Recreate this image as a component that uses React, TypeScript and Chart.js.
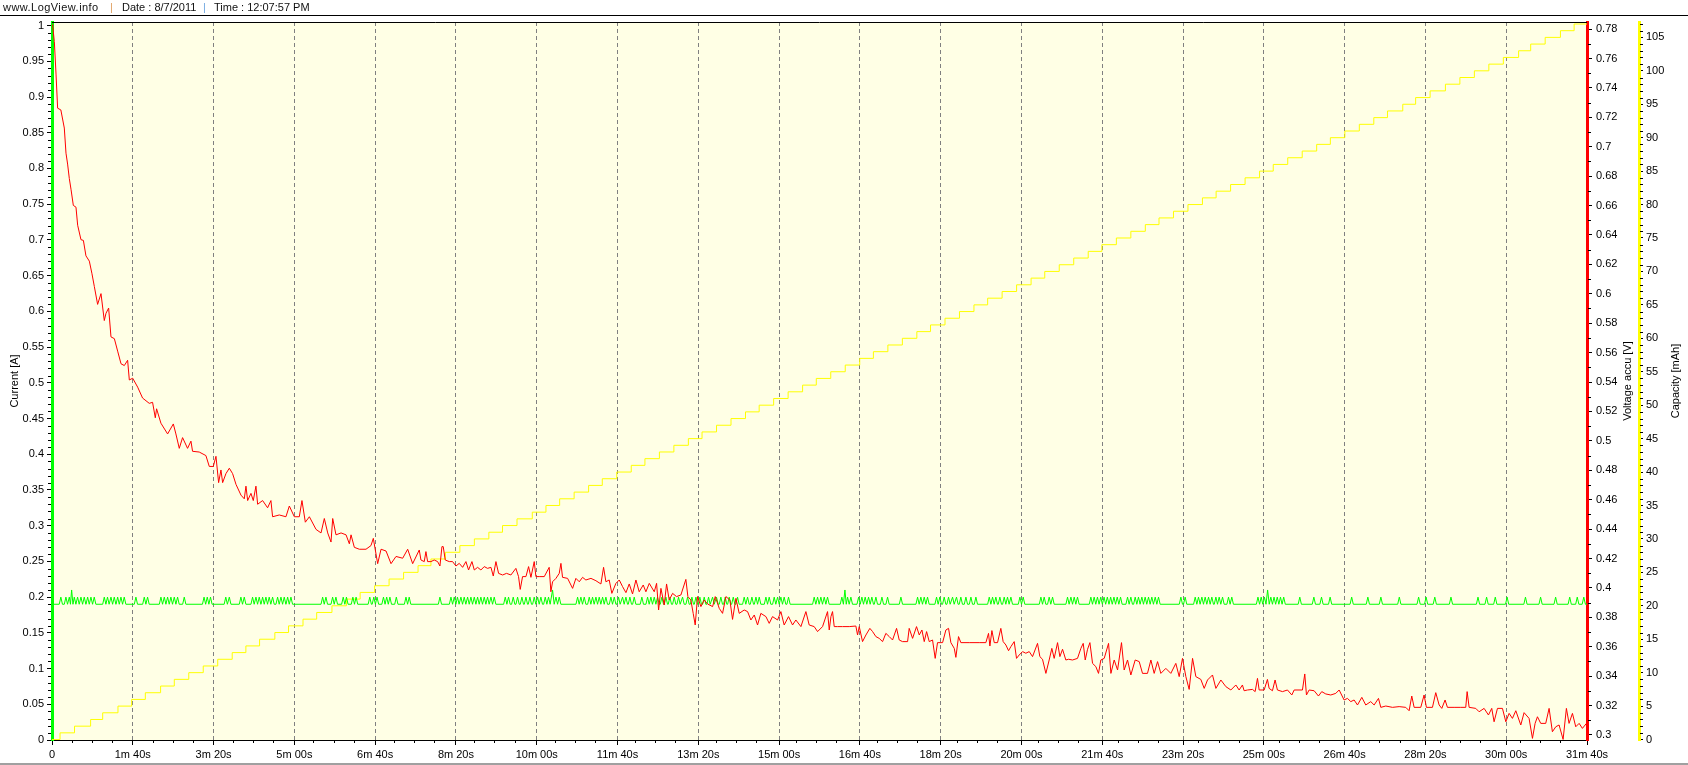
import React, { useEffect, useRef } from 'react';
import { Chart, registerables } from 'chart.js';

Chart.register(...registerables);

const FONT = "'Liberation Sans', Arial, sans-serif";

// ---- axis ranges ----
const X_MAX = 1908; // seconds
const CURRENT_RANGE = [0, 1.005];
const VOLT_RANGE = [0.2966, 0.7848];
const CAP_RANGE = [-0.07, 107.3];

// ---- tick labels ----
const xTickLabels = [
  '0', '1m 40s', '3m 20s', '5m 00s', '6m 40s', '8m 20s', '10m 00s', '11m 40s', '13m 20s', '15m 00s',
  '16m 40s', '18m 20s', '20m 00s', '21m 40s', '23m 20s', '25m 00s', '26m 40s', '28m 20s', '30m 00s', '31m 40s',
];

// ---- Voltage accu [V] (red) ----
const voltTime = [
  0, 0.8, 2.9, 5, 7, 11, 15.3, 17.4, 19.4, 21.5, 23.6, 26.5, 29.8, 31.9, 36, 39, 42.2, 46.4, 49.7, 52.6,
  56.7, 60.9, 65, 67.1, 70.4, 73.3, 77.5, 81.6, 85.8, 89.9, 94, 96.1, 100.3, 106.5, 112.6, 120.9, 125, 128.4, 130, 135.4,
  143.7, 150.8, 154, 158.2, 162.3, 168.5, 172.7, 174.7, 183, 191.3, 195.5, 200.5, 203.8, 207.1, 210, 212.1, 216.2, 220.4, 224.5, 228.7,
  234.9, 239, 241.1, 243.2, 247.3, 250.2, 253.5, 255.6, 261.8, 268, 272.1, 274.2, 282.5, 290.8, 295, 301.2, 307.4, 310.7, 314.9, 319.9,
  328.2, 334.4, 338.5, 342.7, 346.8, 348.9, 353, 359.3, 365.5, 369.6, 371.7, 375.8, 382, 390.3, 396.5, 399.4, 404.8, 409, 415.2, 421.4,
  427.6, 435.9, 442.1, 448.3,
  456.5, 458.6, 462.7, 464.8, 466.9, 471, 475.1, 479.3, 482.2, 484.7, 486.3, 488.8, 493.8, 497.9, 502.1, 506.2, 510.4, 514.5, 517.8, 522,
  524.9, 529, 533.1, 537.3, 541.4, 545.6, 548.5, 551.8, 555.1, 560.1, 565, 570.4, 576.6, 579.9, 582, 584.9, 589.1, 592.4, 595.3, 599.4,
  601.5, 605.6, 611.9, 618, 620.1, 622.2, 626.4, 630.5, 632.6, 634.6, 640.9, 647.1, 651.2, 655.4, 659.5, 663.6, 669.9, 676.1, 682.3, 685.6,
  688.5, 692.6, 695.9, 700.9, 705.1, 709.2, 713.4, 717.5, 721.6, 725.8, 729.9, 734.9, 738.2, 742.4, 748.6, 751.5, 754, 756.9, 761, 763.9,
  767.2, 771.4, 776.3, 781.7, 787.9, 790.4, 794.1, 797, 799.5, 802.4, 806.6, 810.7, 814.9, 821.1, 824.4, 829.4, 833.5, 837.7, 842.6, 845.9,
  850.1, 854.2, 860.4, 864.6, 868.7, 872.9, 877, 881.1, 887.4, 891.5, 895.6, 901.9, 906, 910.1, 915.5, 920.5, 924.6, 930.9, 937.1, 941.2,
  947.4, 951.6, 957.8, 964,
  966.1, 968.2, 970.2, 972.3, 976.5, 982.7, 991, 999.2, 1001.3, 1003.4, 1007.5, 1011.7, 1016.6, 1020, 1024.1, 1028.2, 1032.4, 1036.5, 1040.7, 1044.8,
  1049.8, 1053.1, 1057.2, 1063.5, 1065.5, 1069.7, 1074.6, 1078, 1081.3, 1084.2, 1087.1, 1090.4, 1094.5, 1097.8, 1100.7, 1107, 1111.1, 1114.4, 1117.3, 1121.5,
  1123.5, 1126.8, 1129.7, 1140.1, 1152.5, 1160.8, 1164.1, 1165.8, 1168.3, 1171.2, 1175.3, 1179.4, 1182.3, 1185.7, 1189, 1191.9, 1196, 1198.9, 1202.2, 1206.4,
  1210.5, 1214.7, 1218.8, 1225, 1227.9, 1231.2, 1235.4, 1239.5, 1242.8, 1245.7, 1249.9, 1252.8, 1256.1, 1260.2, 1263.6, 1268.5, 1274.7, 1278.9, 1281.8, 1284.3,
  1287.2, 1290.1, 1293.4, 1297.5, 1300.8, 1303.7, 1307.9, 1313.3, 1316.2, 1320.3, 1324.5, 1329.4, 1332.7, 1336.9, 1341, 1346.4, 1351.4, 1355.5, 1361.7, 1365.9,
  1370, 1374.2, 1378.3, 1384.5, 1390.7, 1396.9, 1401.1, 1405.2, 1409.4, 1413.5, 1417.7, 1421.8, 1428, 1432.2, 1436.3, 1442.5, 1446.7, 1452.9, 1459.1, 1465.3,
  1471.5,
  1475.6, 1479.7, 1481.8, 1486, 1492.2, 1495.5, 1498.4, 1500.5, 1506.7, 1510.8, 1512.9, 1517, 1520.3, 1523.2, 1529.5, 1535.7, 1541.1, 1544, 1554.3, 1557.2,
  1559.3, 1562.6, 1568.8, 1574.2, 1578.3, 1583.3, 1589.5, 1595.7, 1599.9, 1606.1, 1610.2, 1614.4, 1618.5, 1622.7, 1628.1, 1633, 1639.2, 1643.4, 1648.8, 1651.7,
  1657.9, 1666.2, 1674.5, 1682.7, 1686.9, 1690.2, 1693.1, 1701.4, 1705.5, 1708.4, 1715.9, 1720, 1724.2, 1727.5, 1731.6, 1734.5, 1742.8, 1751.1, 1757.3, 1759,
  1761.5, 1769.7, 1773.9, 1780.1, 1785.5, 1789.6, 1792.5, 1796.7, 1802.9, 1807.1, 1811.2, 1815.3, 1819.5, 1825.7, 1829.8, 1836, 1840.2, 1843.5, 1846.4, 1850.5,
  1856.7, 1860.9, 1865, 1869.2, 1873.3, 1878.3, 1882.4, 1885.7, 1889.9, 1894, 1898.2, 1902.3, 1907.3,
];
const voltValue = [
  0.783, 0.7825, 0.7715, 0.7494, 0.7262, 0.725, 0.7127, 0.6956, 0.6882, 0.6784, 0.6711, 0.6601, 0.6589, 0.6466, 0.6368, 0.6363, 0.6258, 0.6222, 0.6136, 0.605,
  0.5928, 0.6001, 0.5818, 0.5867, 0.5903, 0.5707, 0.5695, 0.561, 0.5524, 0.5512, 0.5548, 0.5414, 0.5426, 0.5365, 0.5291, 0.5255, 0.5262, 0.5157, 0.5218, 0.512,
  0.5047, 0.5115, 0.5047, 0.4949, 0.5022, 0.4949, 0.4998, 0.4929, 0.4924, 0.49, 0.4826, 0.4826, 0.4895, 0.4716, 0.4802, 0.4716, 0.4777, 0.4814, 0.4777, 0.4704,
  0.4631, 0.4606, 0.4692, 0.4594, 0.4643, 0.4594, 0.4692, 0.4569, 0.4594, 0.4545, 0.4594, 0.4484, 0.4496, 0.4484, 0.4557, 0.4484, 0.4484, 0.4594, 0.4447, 0.4484,
  0.4398, 0.4374, 0.4472, 0.4374, 0.4312, 0.4472, 0.4361, 0.4374, 0.4361, 0.43, 0.4361, 0.4276, 0.4263, 0.4263, 0.4288, 0.4337, 0.4165, 0.4263, 0.4251, 0.4165,
  0.4214, 0.4202, 0.4263, 0.4165,
  0.4258, 0.419, 0.4179, 0.4247, 0.4179, 0.4179, 0.419, 0.4179, 0.4149, 0.4281, 0.4281, 0.419, 0.4179, 0.4179, 0.4149, 0.4167, 0.414, 0.4179, 0.4122, 0.4179,
  0.4122, 0.414, 0.4122, 0.4145, 0.4133, 0.414, 0.4081, 0.4179, 0.4099, 0.4088, 0.4099, 0.4088, 0.4133, 0.4077, 0.399, 0.4077, 0.4077, 0.4145, 0.4072, 0.4179,
  0.4077, 0.4077, 0.4077, 0.414, 0.3974, 0.4042, 0.4065, 0.4099, 0.4167, 0.4072, 0.4065, 0.3997, 0.4065, 0.4042, 0.4072, 0.4054, 0.4065, 0.4049, 0.4027, 0.414,
  0.4042, 0.4054, 0.3963, 0.4031, 0.4054, 0.4009, 0.3968, 0.4027, 0.3959, 0.4054, 0.3974, 0.402, 0.3974, 0.4031, 0.3974, 0.4031, 0.385, 0.3997, 0.3884, 0.4027,
  0.3918, 0.3963, 0.3941, 0.3952, 0.4058, 0.3941, 0.3918, 0.3827, 0.3748, 0.3941, 0.3873, 0.3918, 0.3891, 0.3873, 0.3941, 0.3861, 0.3827, 0.3941, 0.3918, 0.3786,
  0.3929, 0.3827, 0.385, 0.3839, 0.3782, 0.3816, 0.3748, 0.3827, 0.3805, 0.3759, 0.3805, 0.3782, 0.3839, 0.3748, 0.3805, 0.3748, 0.3782, 0.3737, 0.3839, 0.3748,
  0.3737, 0.3703, 0.3737, 0.3839,
  0.3714, 0.3805, 0.3839, 0.3737, 0.3737, 0.3737, 0.3737, 0.3741, 0.368, 0.3737, 0.3635, 0.368, 0.3725, 0.3703, 0.3669, 0.3657, 0.3635, 0.3691, 0.3669, 0.3646,
  0.3725, 0.3646, 0.3635, 0.3635, 0.3725, 0.3657, 0.3737, 0.368, 0.3714, 0.3635, 0.3703, 0.3635, 0.3646, 0.3521, 0.3628, 0.3628, 0.3714, 0.3725, 0.3628, 0.3589,
  0.3528, 0.3669, 0.3628, 0.3628, 0.3628, 0.3628, 0.3691, 0.3605, 0.371, 0.3628, 0.3628, 0.3725, 0.3635, 0.3612, 0.3573, 0.3601, 0.3635, 0.3521, 0.3544, 0.3567,
  0.3556, 0.3567, 0.3533, 0.3623, 0.3533, 0.3515, 0.3419, 0.351, 0.3589, 0.3521, 0.3628, 0.3533, 0.3583, 0.351, 0.3515, 0.351, 0.3521, 0.3589, 0.3623, 0.351,
  0.3583, 0.3628, 0.3487, 0.3465, 0.3419, 0.351, 0.3521, 0.3623, 0.3419, 0.351, 0.3442, 0.3628, 0.3442, 0.351, 0.3408, 0.351, 0.3499, 0.3419, 0.3419, 0.351,
  0.3419, 0.3499, 0.3419, 0.3453, 0.3419, 0.3487, 0.3397, 0.3521, 0.3397, 0.331, 0.3521, 0.3397, 0.3378, 0.3317, 0.3374, 0.3408, 0.3317, 0.3374, 0.3329, 0.3306,
  0.334,
  0.3306, 0.334, 0.3301, 0.3306, 0.331, 0.3295, 0.3385, 0.3306, 0.3306, 0.3378, 0.3317, 0.3301, 0.3374, 0.3306, 0.3295, 0.3306, 0.3272, 0.3306, 0.3306, 0.3415,
  0.3272, 0.3306, 0.3301, 0.3265, 0.3295, 0.3279, 0.3272, 0.3283, 0.3306, 0.3238, 0.3249, 0.3227, 0.3238, 0.3204, 0.3256, 0.3204, 0.3227, 0.3204, 0.3249, 0.3188,
  0.3197, 0.3188, 0.3193, 0.3188, 0.3165, 0.3265, 0.3188, 0.3188, 0.3272, 0.3188, 0.3188, 0.3288, 0.3204, 0.3181, 0.3238, 0.3188, 0.3188, 0.3188, 0.3188, 0.3295,
  0.3188, 0.3181, 0.3158, 0.3181, 0.3136, 0.3181, 0.309, 0.3181, 0.3181, 0.309, 0.3147, 0.3113, 0.3165, 0.3068, 0.3152, 0.3113, 0.2977, 0.3079, 0.3124, 0.3079,
  0.3079, 0.3181, 0.3022, 0.3056, 0.3068, 0.297, 0.3181, 0.3079, 0.3147, 0.3056, 0.3079, 0.3045, 0.3079,
];

// ---- Current [A] (green): baseline with short peaks ----
const CURRENT_BASE = 0.19;
const CURRENT_PEAK = 0.2;
const CURRENT_HIGH = 0.21;
const currentPeakTimes = [
  0, 11, 17.3, 21.5, 27.7, 31.8, 36, 40.1, 44.3, 48.4, 52.5, 65, 69, 73.3, 77.4, 81.6, 85.7, 89.8, 104.3, 114.7,
  118.8, 135.4, 139.6, 143.7, 147.8, 152, 156.1, 164.4, 189, 193, 197, 216, 220.4, 234.8, 239, 249.3, 253.5, 257.6, 261.8, 265.9,
  270, 274.2, 280.4, 284.6, 288.7, 292.9, 297, 336.4, 340.5, 348.8, 352.9, 362, 366, 374, 378, 395, 400, 404, 412, 416,
  420, 428, 440, 444, 482.2, 495.9, 500, 504, 508.3, 512.4, 516.6, 520.7, 524.9, 529, 533.1, 537.3, 541.4, 545.6, 549.7, 563.4,
  567.5, 573.3, 578.7, 584.1, 589.1, 594, 599.4, 603.6, 607.7, 613.1, 617.2, 626.4, 630.5, 653.3, 657.4, 661.6, 667.8, 671.9, 676.1, 680.2,
  684.4, 688.5, 694.7, 698.9, 704.2, 709.2, 713.4, 718.3, 723.7, 733.2, 740.3, 744.4, 748.6, 752.7, 758.1, 763.1, 768, 773.4, 778.8, 783.8,
  790, 795.4, 800.4, 805.3, 810.7, 816.1, 821.1, 826, 831.4, 836.8, 841.8, 846.8, 852.1, 860.4, 864.6, 870, 875, 879.1, 887.4, 891.5,
  897.7, 901.9, 906, 910.1, 915.5, 947.4, 951.6, 955.7, 959.9, 964, 981.8, 988.9, 993, 1002.6, 1006.7, 1010.8, 1015, 1019.1, 1024.1, 1031.6,
  1038.6, 1055.2, 1075.9, 1080, 1084.2, 1088.3, 1099.5, 1103.6, 1109, 1114.4, 1119.4, 1124.3, 1129.7, 1136, 1142.2, 1148.4, 1165, 1169.1, 1173.2, 1178.2,
  1183.6, 1187.7, 1191.9, 1203.1, 1207.2, 1229.2, 1233.3, 1239.5, 1243.7, 1262.3, 1266.5, 1270.6, 1274.7, 1291.3, 1295.4, 1299.5, 1303.6, 1307.7, 1311.8, 1315.9,
  1320, 1324.1, 1328.2, 1336.9, 1341, 1346.4, 1350.5, 1354.7, 1358.8, 1363, 1367.1, 1371.3, 1375.4, 1403.2, 1408.5, 1421, 1425.1, 1429.3, 1433.4, 1437.6,
  1441.7, 1446.7, 1450.8, 1455, 1462.4, 1466.5, 1499, 1503, 1507, 1515, 1519, 1523, 1527, 1531, 1551, 1568.5, 1578, 1588.7, 1615.5, 1635.6,
  1651.8, 1674.7, 1698.7, 1708, 1718.8, 1738.9, 1772.5, 1783.2, 1794, 1808.7, 1831.5, 1850.3, 1869, 1886.5, 1895.9, 1904,
];
const currentHighPeakTimes = [24.4, 622.2, 985.6, 1511];

// ---- Capacity [mAh] (yellow): time of each 1 mAh step ----
const capacityStepTimes = [
  10, 28, 48, 63, 82, 99, 116, 135, 152, 170, 188, 206, 224, 241, 258, 277, 294, 312, 329, 348,
  366, 383, 401, 419, 437, 455, 471, 489, 507, 525, 543, 560, 578, 597, 614, 631, 649, 667, 684, 702,
  720, 737, 755, 773, 791, 808, 826, 844, 862, 879, 897, 915, 933, 950, 968, 986, 1004, 1021, 1039, 1057,
  1075, 1092, 1110, 1128, 1146, 1163, 1181, 1199, 1217, 1234, 1252, 1270, 1288, 1305, 1323, 1341, 1359, 1376, 1394, 1412,
  1430, 1447, 1465, 1483, 1501, 1518, 1536, 1554, 1572, 1589, 1607, 1625, 1643, 1660, 1679, 1695, 1713, 1732, 1750, 1768,
  1786, 1804, 1823, 1838, 1856, 1875, 1892,
];
const capacityStepValues = [
  1, 2, 3, 4, 5, 6, 7, 8, 9, 10, 11, 12, 13, 14, 15, 16, 17, 18, 19, 20,
  21, 22, 23, 24, 25, 26, 27, 28, 29, 30, 31, 32, 33, 34, 35, 36, 37, 38, 39, 40,
  41, 42, 43, 44, 45, 46, 47, 48, 49, 50, 51, 52, 53, 54, 55, 56, 57, 58, 59, 60,
  61, 62, 63, 64, 65, 66, 67, 68, 69, 70, 71, 72, 73, 74, 75, 76, 77, 78, 79, 80,
  81, 82, 83, 84, 85, 86, 87, 88, 89, 90, 91, 92, 93, 94, 95, 96, 97, 98, 99, 100,
  101, 102, 103, 104, 105, 106, 107,
];

// ---- build datasets from the arrays ----
const voltPoints = voltTime.map((t, i) => ({ x: t, y: voltValue[i] }));

const currentPeaks = [
  ...currentPeakTimes.map((t) => [t, CURRENT_PEAK]),
  ...currentHighPeakTimes.map((t) => [t, CURRENT_HIGH]),
].sort((a, b) => a[0] - b[0]);
const currentPoints: { x: number; y: number }[] = [];
currentPeaks.forEach(([t, v], i) => {
  const prev = i > 0 ? currentPeaks[i - 1][0] : -Infinity;
  const next = i < currentPeaks.length - 1 ? currentPeaks[i + 1][0] : Infinity;
  const hl = Math.min(2, (t - prev) / 2);
  const hr = Math.min(2, (next - t) / 2);
  currentPoints.push({ x: t - hl, y: CURRENT_BASE }, { x: t, y: v }, { x: t + hr, y: CURRENT_BASE });
});
currentPoints.push({ x: X_MAX, y: CURRENT_BASE });

const capPoints = [{ x: 0, y: 0 }, ...capacityStepTimes.map((t, i) => ({ x: t, y: capacityStepValues[i] }))];
capPoints.push({ x: X_MAX, y: capacityStepValues[capacityStepValues.length - 1] });

const fmtNum = (v: number) => String(Math.round(v * 1000) / 1000);

const decoPlugin = {
  id: 'deco',
  beforeDraw(chart: any) {
    const { ctx, chartArea: ca } = chart;
    ctx.save();
    ctx.fillStyle = '#ffffff';
    ctx.fillRect(0, 0, chart.width, chart.height);
    ctx.fillStyle = '#FFFFE5';
    ctx.fillRect(ca.left, ca.top, ca.right - ca.left, ca.bottom - ca.top);
    ctx.restore();
  },
  beforeDatasetsDraw(chart: any) {
    const { ctx, chartArea: ca, scales } = chart;
    ctx.save();
    ctx.strokeStyle = '#000';
    ctx.lineWidth = 1;
    ctx.beginPath();
    // top border of plot
    ctx.moveTo(ca.left, ca.top + 0.5);
    ctx.lineTo(ca.right, ca.top + 0.5);
    // minor ticks
    const yc = scales.yCur;
    for (let k = 0; k <= 100; k++) {
      if (k % 5 === 0) continue;
      const y = Math.round(yc.getPixelForValue(k / 100)) + 0.5;
      ctx.moveTo(ca.left - 4, y);
      ctx.lineTo(ca.left - 1, y);
    }
    const yv = scales.yVolt;
    for (let k = 30; k <= 78; k++) {
      if (k % 2 === 0) continue;
      const y = Math.round(yv.getPixelForValue(k / 100)) + 0.5;
      ctx.moveTo(ca.right + 1, y);
      ctx.lineTo(ca.right + 4, y);
    }
    const yk = scales.yCap;
    for (let k = 0; k <= 107; k++) {
      if (k % 5 === 0) continue;
      const y = Math.round(yk.getPixelForValue(k)) + 0.5;
      ctx.moveTo(yk.left + 1, y);
      ctx.lineTo(yk.left + 4, y);
    }
    const xs = scales.x;
    for (let s = 25; s < X_MAX; s += 25) {
      if (s % 100 === 0) continue;
      const x = Math.round(xs.getPixelForValue(s)) + 0.5;
      ctx.moveTo(x, ca.bottom);
      ctx.lineTo(x, ca.bottom + 3);
    }
    ctx.stroke();
    ctx.restore();
  },
  afterDraw(chart: any) {
    const { ctx, chartArea: ca, scales } = chart;
    const cy = (ca.top + ca.bottom) / 2;
    ctx.save();
    ctx.font = `11px ${FONT}`;
    ctx.fillStyle = '#000';
    ctx.textAlign = 'center';
    ctx.textBaseline = 'middle';
    const draw = (text: string, x: number) => {
      ctx.save();
      ctx.translate(x, cy);
      ctx.rotate(-Math.PI / 2);
      ctx.fillText(text, 0, 0);
      ctx.restore();
    };
    draw('Current [A]', scales.yCur.left + 15);
    draw('Voltage accu [V]', scales.yVolt.right - 11);
    draw('Capacity [mAh]', scales.yCap.right - 12);
    ctx.restore();
  },
};

export default function App() {
  const ref = useRef<HTMLCanvasElement>(null);

  useEffect(() => {
    document.body.style.margin = '0';
    const canvas = ref.current!;
    Chart.defaults.font.family = FONT;
    Chart.defaults.font.size = 11;
    Chart.defaults.color = '#000';

    const chart = new Chart(canvas, {
      type: 'line',
      data: {
        datasets: [
          {
            label: 'Voltage accu [V]',
            data: voltPoints,
            yAxisID: 'yVolt',
            borderColor: '#FF0000',
            borderWidth: 1,
            pointRadius: 0,
            tension: 0,
          },
          {
            label: 'Current [A]',
            data: currentPoints,
            yAxisID: 'yCur',
            borderColor: '#00FF00',
            borderWidth: 1,
            pointRadius: 0,
            tension: 0,
          },
          {
            label: 'Capacity [mAh]',
            data: capPoints,
            yAxisID: 'yCap',
            borderColor: '#FFFF00',
            borderWidth: 1,
            pointRadius: 0,
            stepped: 'before',
          },
        ] as any,
      },
      options: {
        animation: false,
        responsive: false,
        devicePixelRatio: 1,
        layout: { padding: { top: 22, left: 0, right: 0, bottom: 0 } },
        plugins: { legend: { display: false }, tooltip: { enabled: false }, title: { display: false } },
        scales: {
          x: {
            type: 'linear',
            position: 'bottom',
            min: 0,
            max: X_MAX,
            ticks: {
              stepSize: 100,
              includeBounds: false,
              autoSkip: false,
              maxRotation: 0,
              padding: 3,
              color: '#000',
              font: { size: 11, family: FONT },
              callback: (_v: any, i: number) => xTickLabels[i],
            },
            grid: {
              drawOnChartArea: true,
              drawTicks: true,
              tickLength: 5,
              color: (c: any) => (c.tick && c.tick.value === 0 ? 'rgba(0,0,0,0)' : '#808080'),
              tickColor: '#000',
              lineWidth: 1,
            },
            border: { display: true, color: '#000', width: 1, dash: [4, 3] },
            afterFit: (s: any) => { s.height = 25; },
          },
          yCur: {
            type: 'linear',
            position: 'left',
            min: CURRENT_RANGE[0],
            max: CURRENT_RANGE[1],
            ticks: {
              stepSize: 0.05,
              includeBounds: false,
              autoSkip: false,
              padding: 3,
              color: '#000',
              font: { size: 11, family: FONT },
              callback: (v: any) => fmtNum(Number(v)),
            },
            grid: { drawOnChartArea: false, drawTicks: true, tickLength: 5, tickColor: '#000' },
            border: { display: true, color: '#00FF00', width: 3 },
            afterFit: (s: any) => { s.width = 52; },
          },
          yVolt: {
            type: 'linear',
            position: 'right',
            weight: 0,
            min: VOLT_RANGE[0],
            max: VOLT_RANGE[1],
            ticks: {
              stepSize: 0.02,
              includeBounds: false,
              autoSkip: false,
              padding: 4,
              color: '#000',
              font: { size: 11, family: FONT },
              callback: (v: any) => fmtNum(Number(v)),
            },
            grid: { drawOnChartArea: false, drawTicks: true, tickLength: 5, tickColor: '#000' },
            border: { display: true, color: '#FF0000', width: 3 },
            afterFit: (s: any) => { s.width = 52; },
          },
          yCap: {
            type: 'linear',
            position: 'right',
            weight: 1,
            min: CAP_RANGE[0],
            max: CAP_RANGE[1],
            ticks: {
              stepSize: 5,
              includeBounds: false,
              autoSkip: false,
              padding: 3,
              color: '#000',
              font: { size: 11, family: FONT },
              callback: (v: any) => fmtNum(Number(v)),
            },
            grid: { drawOnChartArea: false, drawTicks: true, tickLength: 4, tickColor: '#000' },
            border: { display: true, color: '#FFFF00', width: 3 },
            afterFit: (s: any) => { s.width = 49; },
          },
        },
      } as any,
      plugins: [decoPlugin],
    });
    return () => chart.destroy();
  }, []);

  const hdr: React.CSSProperties = { position: 'absolute', top: 1, whiteSpace: 'pre' };
  return (
    <div style={{ position: 'relative', width: 1688, height: 765, background: '#fff', overflow: 'hidden' }}>
      <canvas ref={ref} width={1688} height={765} style={{ position: 'absolute', left: 0, top: 0 }} />
      <div
        style={{
          position: 'absolute', left: 0, top: 0, width: 1688, height: 15,
          borderBottom: '1px solid #000', font: `11px ${FONT}`, color: '#111',
        }}
      >
        <span style={{ ...hdr, left: 3, letterSpacing: '0.45px' }}>www.LogView.info</span>
        <span style={{ ...hdr, left: 110, color: '#E0A060' }}>|</span>
        <span style={{ ...hdr, left: 122 }}>Date : 8/7/2011</span>
        <span style={{ ...hdr, left: 203, color: '#70A8E0' }}>|</span>
        <span style={{ ...hdr, left: 214 }}>Time : 12:07:57 PM</span>
      </div>
      <div style={{ position: 'absolute', left: 0, top: 763, width: 1688, height: 2, background: '#a0a0a0' }} />
    </div>
  );
}
